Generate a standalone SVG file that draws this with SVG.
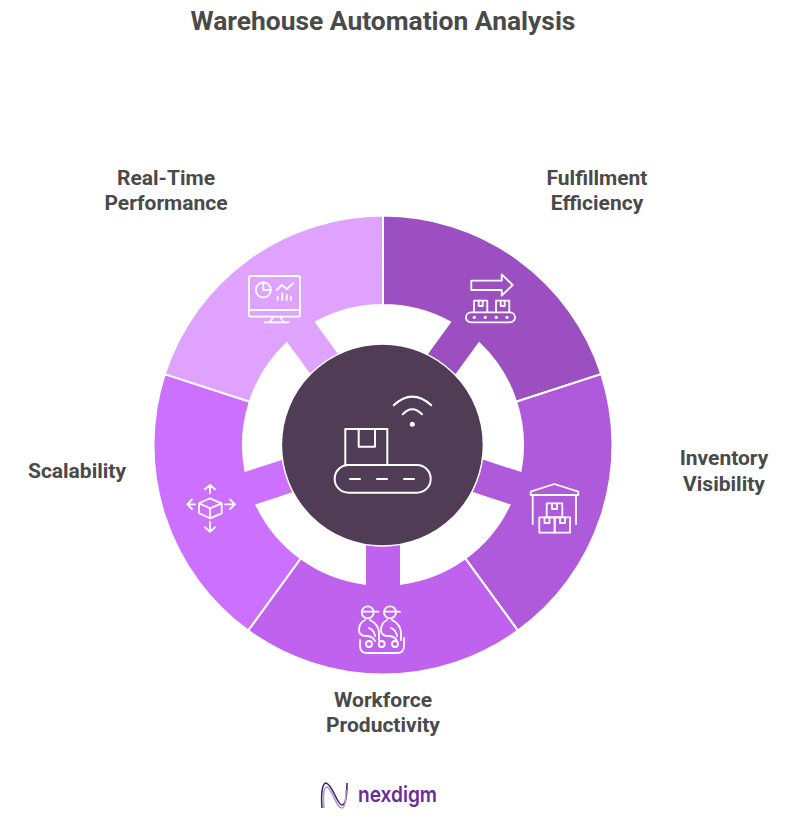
<svg xmlns="http://www.w3.org/2000/svg" width="802" height="835" viewBox="0 0 802 835">
<style>
.t{font-family:Roboto,"Liberation Sans",sans-serif;font-weight:700;fill:#4a4a4a;text-anchor:middle}
.l{font-size:21px}
.i{fill:none;stroke:#fff;stroke-width:1.8;stroke-linecap:round;stroke-linejoin:round}
.d{fill:#fff}
.s{stroke:#fff;stroke-width:2;stroke-linejoin:miter}
</style>
<defs>
<path id="seg" class="s" d="M-134.9 -185.67A229.5 229.5 0 0 1 134.9 -185.67L82.3 -113.3A140 140 0 0 0 18 -138.84L18 -96L-18 -96L-18 -138.84A140 140 0 0 0 -82.3 -113.3Z"/>
</defs>
<rect width="802" height="835" fill="#fff"/>
<text id="title" class="t" x="383" y="30" font-size="26.4">Warehouse Automation Analysis</text>

<g id="node-fulfillment">
<use href="#seg" transform="translate(383 445) rotate(36)" fill="#9b4fc0"/>
<g class="i">
<path d="M471.3 280.7H501.7V274.3L512.7 285L501.7 295.7V290H471.3Z"/>
<path d="M474 312V300.7H487.3V312M478.7 300.7V306H482.7V300.7M496 312V300.7H509.3V312M500.7 300.7V306H504.7V300.7"/>
<rect x="466" y="312.3" width="49" height="10" rx="5"/>
</g>
<g class="d"><circle cx="474.3" cy="317.3" r="1.6"/><circle cx="485.3" cy="317.3" r="1.6"/><circle cx="496.3" cy="317.3" r="1.6"/><circle cx="507" cy="317.3" r="1.6"/></g>
<text class="t l" x="597" y="185">Fulfillment</text>
<text class="t l" x="597" y="210">Efficiency</text>
</g>

<g id="node-inventory">
<use href="#seg" transform="translate(383 445) rotate(108)" fill="#ae5adb"/>
<g class="i">
<path d="M530.7 495V491.7L554.3 484L578.3 491.7V495Z"/>
<path d="M532.7 495V524M576 495V524"/>
<rect x="546.7" y="503.3" width="15.6" height="14"/>
<rect x="539.3" y="517.3" width="15.4" height="15.4"/>
<rect x="554.7" y="517.3" width="15.4" height="15.4"/>
<path d="M552 503.3V509H557V503.3M544.5 517.3V523H549.5V517.3M560 517.3V523H565V517.3"/>
</g>
<text class="t l" x="724" y="465">Inventory</text>
<text class="t l" x="724" y="491">Visibility</text>
</g>

<g id="node-workforce">
<use href="#seg" transform="translate(383 445) rotate(180)" fill="#bf63ef"/>
<g class="i">
<circle cx="367.7" cy="612.3" r="6"/><circle cx="390" cy="612.3" r="6"/>
<path d="M361.7 611.7H378.5M384 611.7H400"/>
<path d="M365 620Q359 623 359 630Q359 636 366 636Q373 636 375 641M370 620Q378 624 379 632Q379 636 379 640M369 628Q374 630 375 636"/>
<path d="M387 620Q381 623 381 630Q381 636 388 636Q395 636 397 641M392 620Q400 624 401 632Q401 636 401 640M391 628Q396 630 397 636"/>
<circle cx="369" cy="644" r="3"/><circle cx="381.7" cy="644" r="3"/><circle cx="395" cy="644" r="3"/>
<path d="M360 640V646Q360 653 367 653H397Q404 653 404 646V638"/>
</g>
<text class="t l" x="383" y="707">Workforce</text>
<text class="t l" x="383" y="732">Productivity</text>
</g>

<g id="node-scalability">
<use href="#seg" transform="translate(383 445) rotate(252)" fill="#cb70ff"/>
<g class="i">
<path d="M210 498.3L221.7 503.3V513.3L210 518.3L199 513.3V503.3ZM199 503.3L210 508.3L221.7 503.3M210 508.3V518.3"/>
<path d="M210 493.3V485M205 489.3L210 485L215 489.3M210 522V531.7M205 527.3L210 531.7L215 527.3M195 504.3H187.3M192 499.5L187.3 504.3L192 509M225 504.3H235M230 499.5L235 504.3L230 509"/>
</g>
<text class="t l" x="77" y="478">Scalability</text>
</g>

<g id="node-realtime">
<use href="#seg" transform="translate(383 445) rotate(324)" fill="#dfa3ff"/>
<g class="i">
<rect x="249" y="276" width="51" height="40.7" rx="2"/>
<path d="M249 310H300M273.3 316.7L270 322.3M280 316.7L284 322.3M264.7 322.3H288.7"/>
<circle cx="263.3" cy="290" r="7.5"/>
<path d="M263.3 282.5V290H270.8M276.7 290L281.7 285L286.7 289L293.3 283.3M277.7 300V296.7M282.3 300V293M286.7 300V295M291 300V296.7"/>
</g>
<text class="t l" x="166" y="185">Real-Time</text>
<text class="t l" x="166" y="210">Performance</text>
</g>

<g id="node-center">
<circle cx="382.4" cy="445" r="101" fill="#503d55" stroke="#fff" stroke-width="1.5"/>
<g class="i" style="stroke-width:2">
<rect x="345.3" y="429" width="42" height="36"/>
<path d="M358.7 429V446.7H375V429"/>
<rect x="334.7" y="465" width="96" height="27.7" rx="13.8"/>
<path d="M350 479H360M377 479H387M404 479H414"/>
<path d="M402.7 414.3Q412.3 404 422 414.3M393.7 405.3Q412.3 388 431.3 405.3"/>
</g>
<circle class="d" cx="412.3" cy="424.3" r="2.5"/>
</g>

<g id="logo">
<path d="M322 808C321 795 322 783 326 783C333 785 337 805 342 805C346 805 347 795 347 783" fill="none" stroke="#3f2a6b" stroke-width="1.6"/>
<path d="M324 808C323 797 323 787 327 787C333 790 336 808 342 808C345 808 346 800 346 790" fill="none" stroke="#b79ad6" stroke-width="1.6"/>
<text x="358" y="802" font-family="Inter,'Noto Sans',sans-serif" font-weight="600" font-size="22" fill="#6a2c9a" textLength="79" lengthAdjust="spacingAndGlyphs">nexdigm</text>
</g>
</svg>
